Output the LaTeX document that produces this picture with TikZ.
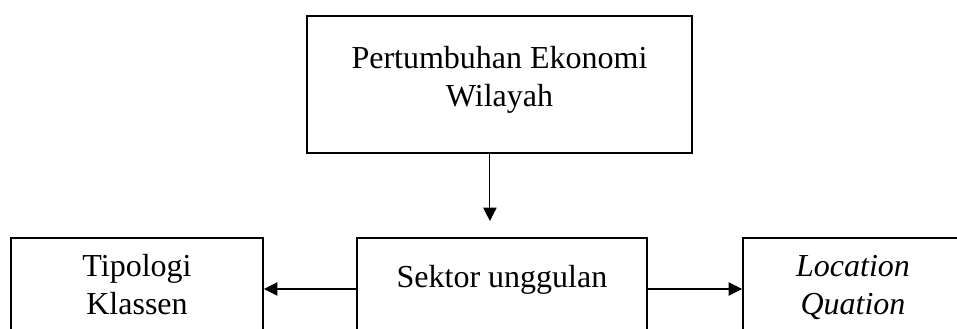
\documentclass[tikz,border=0pt]{standalone}
\usepackage{fontspec}
\setmainfont{Liberation Serif}
\usetikzlibrary{arrows.meta}

\begin{document}
\begin{tikzpicture}[x=0.375pt,y=-0.375pt,>={Triangle[length=5pt,width=5pt]},
  kotak/.style={rectangle,draw,line width=0.75pt,align=center,inner sep=0pt,
    font=\fontsize{12}{14.25}\selectfont}]
\useasboundingbox (0,0) rectangle (957,329);
\clip (0,0) rectangle (957,329);
\node[kotak,minimum width=144.4pt,minimum height=51.4pt] (atas) at (499.5,84.5) {Pertumbuhan Ekonomi\\Wilayah\\[-8pt]\mbox{}};
\node[kotak,minimum width=108.75pt,minimum height=38.25pt] (sektor) at (502,289) {Sektor unggulan\\[-5pt]\mbox{}};
\node[kotak,minimum width=94.5pt,minimum height=38.25pt] (klassen) at (137,289) {Tipologi\\Klassen\\[-11pt]\mbox{}};
\node[kotak,minimum width=82.5pt,minimum height=38.25pt] (lq) at (853,289) {\itshape Location\\\itshape Quation\\[-11pt]\mbox{}};
\draw[->,line width=0.4pt,shorten >=6pt] ([xshift=-3.6pt]atas.south) -- ([xshift=-3.6pt]atas.south |- sektor.north);
\draw[->,line width=0.4pt] (sektor.west) -- (klassen.east);
\draw[->,line width=0.4pt] (sektor.east) -- (lq.west);
\end{tikzpicture}
\end{document}
